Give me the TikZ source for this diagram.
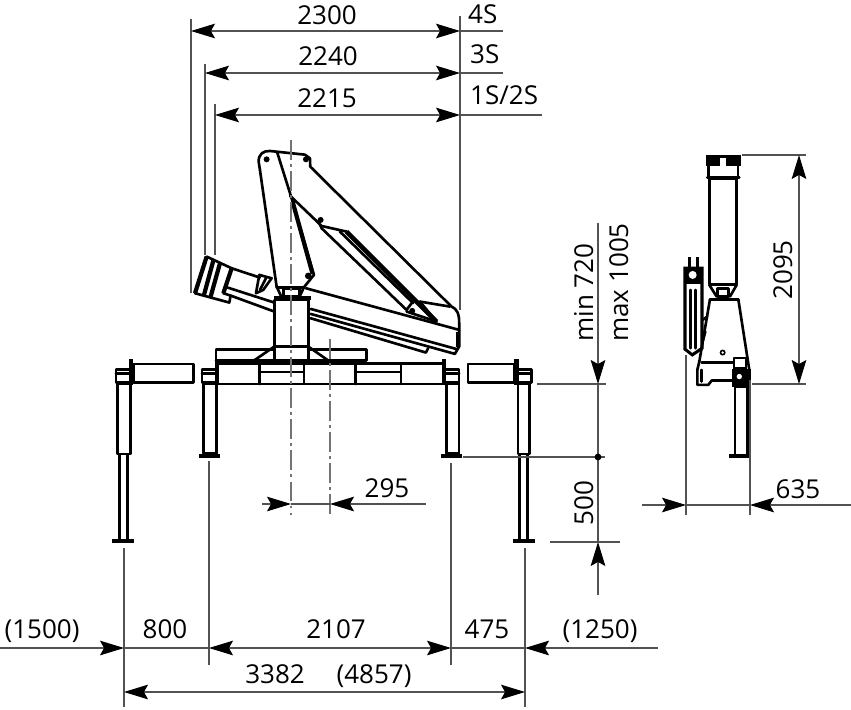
\documentclass[tikz,border=0pt]{standalone}
\usepackage{fontspec}
\setmainfont{Open Sans}
\usetikzlibrary{arrows.meta}
\tikzset{
  dimtext/.style={font=\fontsize{22.2}{26}\selectfont,inner sep=0,anchor=base},
  dimline/.style={line width=.95pt,color=black!68},
  dimarrow/.style={dimline,arrows={-{Stealth[length=20.5pt,width=12.5pt,inset=3.5pt,color=black]}}},
  dimboth/.style={dimline,arrows={{Stealth[length=20.5pt,width=12.5pt,inset=3.5pt,color=black]}-{Stealth[length=20.5pt,width=12.5pt,inset=3.5pt,color=black]}}},
  centreline/.style={line width=1.3pt,color=black!55,dash pattern=on 17pt off 3.5pt on 2.5pt off 3.5pt},
  steel/.style={line width=2.25pt,line join=round,line cap=round},
  heavy/.style={line width=3.6pt,line cap=butt},
  zoomed/.style={x=.01cm,y=-.01cm}
}
\begin{document}
\begin{tikzpicture}[x=.03cm,y=-.03cm]
    \useasboundingbox (0,0) rectangle (851,709);
    % front view, boom and column
    \begin{scope}[shift={(180,130)},zoomed]
    \draw[steel] (240,120) -- (236,95) .. controls (236,72) and (250,62) .. (270,63) -- (375,74) -- (390,85) -- (391,110) -- (815,530) .. controls (835,540) and (838,555) .. (838,580) -- (838,650) -- (825,672);
    \draw[steel] (240,120) -- (290,470) -- (303,498);
    \draw[steel] (292,68) -- (335,205) -- (402,435) -- (372,472) -- (360,498);
    \draw[steel] (290,472) -- (372,472);
    \draw[steel] (310,475) rectangle (358,498);
    \draw[heavy] (338,215) -- (398,432);
    \draw[heavy] (283,505) -- (392,505);
    \draw[steel] (283,510) rectangle (385,696);
    \draw[steel] (283,650) -- (385,650);
    \draw[steel] (378,475) -- (838,600);
    \draw[steel] (392,537) -- (832,658);
    \draw[steel] (392,552) -- (825,672);
    \draw[steel] (392,565) -- (738,668) -- (745,655);
    \draw[heavy] (835,605) -- (835,650);
    \draw[steel] (330,197) -- (422,285) -- (425,295) -- (680,540) -- (695,520);
    \draw[steel] (420,287) -- (500,305);
    \draw[line width=3.9pt] (500,305) -- (770,575);
    \draw[steel] (480,305) -- (700,520);
    \draw[steel] (720,515) -- (810,530);
    \draw[steel] (720,515) -- (770,575);
    \draw[steel] (680,545) -- (770,575);
    \fill (260,88) circle (9);
    \fill (422,270) circle (9);
    \fill (385,438) circle (10);
    \fill (697,543) circle (9);
    \fill (378,88) circle (9);
    % folded tip of the boom
    \draw[heavy] (80,380) -- (45,490);
    \draw[heavy] (100,392) -- (72,495);
    \draw[heavy] (120,400) -- (92,500);
    \draw[heavy] (155,415) -- (130,490);
    \draw[steel] (80,380) -- (155,415) -- (240,443);
    \draw[steel] (45,490) -- (148,518) -- (152,497);
    \draw[steel] (130,490) -- (152,497) -- (283,545);
    \draw[steel] (140,472) -- (283,518);
    \draw[steel] (238,435) -- (275,445) -- (250,480) -- (228,490) -- cycle;
    \draw[steel] (240,480) -- (258,445);
    % base plate
    \draw[steel] (108,692) -- (108,658) -- (283,658);
    \draw[steel] (385,658) -- (560,658) -- (560,692) -- (108,692);
    \draw[steel] (222,692) -- (283,650);
    \draw[steel] (385,650) -- (445,692);
    \end{scope}
    % frame and legs
    \begin{scope}[shift={(100,340)},zoomed]
    \draw[steel] (350,70) rectangle (1030,132);
    \draw[steel] (478,70) -- (478,132);
    \draw[steel] (612,70) -- (612,132);
    \draw[steel] (766,70) -- (766,132);
    \draw[steel] (903,70) -- (903,132);
    \draw[steel] (478,96) -- (612,96);
    \draw[steel] (766,96) -- (903,96);
    \draw[steel] (310,130) rectangle (350,340);
    \draw[heavy] (297,348) -- (360,348);
    \draw[steel] (306,88) rectangle (350,128);
    \draw[steel] (306,100) -- (350,100);
    \draw[heavy] (352,60) -- (352,135);
    \draw[steel] (1040,130) rectangle (1078,340);
    \draw[heavy] (1023,348) -- (1088,348);
    \draw[steel] (1035,88) rectangle (1078,128);
    \draw[steel] (1035,100) -- (1078,100);
    \draw[heavy] (1033,58) -- (1033,135);
    % outer legs
    \draw[steel] (100,72) rectangle (280,128);
    \draw[steel] (52,130) rectangle (92,342);
    \draw[steel] (48,88) rectangle (92,128);
    \draw[steel] (48,100) -- (92,100);
    \draw[heavy] (93,58) -- (93,135);
    \draw[steel] (58,342) rectangle (82,604);
    \draw[heavy] (37,604) -- (103,604);
    \draw[steel] (1105,72) rectangle (1245,128);
    \draw[heavy] (1250,58) -- (1250,135);
    \draw[steel] (1250,88) rectangle (1295,128);
    \draw[steel] (1250,100) -- (1295,100);
    \draw[steel] (1255,130) rectangle (1290,342);
    \draw[steel] (1260,342) rectangle (1283,604);
    \draw[heavy] (1240,604) -- (1305,604);
    \end{scope}
    % side view
    \begin{scope}[shift={(670,140)},zoomed]
    \fill (108,46) rectangle (212,78);
    \fill (112,78) rectangle (120,112);
    \fill (200,78) rectangle (208,112);
    \fill[white] (150,55) rectangle (168,108);
    \draw[steel] (112,112) -- (208,112);
    \draw[steel] (118,115) rectangle (200,432);
    \draw[steel] (118,435) -- (140,470);
    \draw[steel] (200,435) -- (180,470);
    \draw[steel] (118,435) -- (200,435);
    \draw[steel] (143,445) rectangle (175,470);
    \draw[steel] (120,478) -- (205,478);
    \draw[steel] (120,478) -- (88,665) -- (82,690) -- (82,735) -- (115,735) -- (125,722) -- (190,722);
    \draw[steel] (205,478) -- (238,690);
    \draw[steel] (95,668) -- (190,668);
    \draw[steel] (95,690) -- (95,725);
    \fill (158,638) circle (9);
    \fill[white] (158,638) circle (4);
    % folded boom seen from the side
    \draw[line width=2.6pt] (45,385) -- (45,628) -- (67,645) -- (96,625) -- (96,385) -- cycle;
    \fill (53,352) rectangle (62,385);
    \fill (78,352) rectangle (87,385);
    \fill (45,380) rectangle (96,432);
    \fill[white] (68,405) circle (12);
    \fill[white] (55,432) -- (75,442) -- (55,452) -- cycle;
    \draw[steel] (62,450) -- (62,625);
    \draw[steel] (76,450) -- (76,625);
    \draw[steel] (98,540) -- (112,530);
    \draw[steel] (98,605) -- (106,575);
    % leg
    \fill (186,686) rectangle (242,740);
    \draw[steel] (192,654) rectangle (228,686);
    \fill[white] (208,710) circle (8);
    \draw[steel] (195,740) rectangle (232,948);
    \draw[heavy] (178,948) -- (242,948);
    \end{scope}
    % centre lines
    \draw[centreline] (291,140) -- (291,515);
    \draw[centreline] (330,339) -- (330,515);
    % extension lines
    \coordinate (ext4sa) at (191,19);
    \coordinate (ext4sb) at (191,293);
    \coordinate (ext3sa) at (205,64);
    \coordinate (ext3sb) at (205,255);
    \coordinate (ext1sa) at (215,104);
    \coordinate (ext1sb) at (215,255);
    \coordinate (exttipa) at (460,16);
    \coordinate (exttipb) at (460,310);
    \coordinate (extfoota) at (124,548);
    \coordinate (extfootb) at (124,707);
    \coordinate (extfootc) at (525,548);
    \coordinate (extfootd) at (525,707);
    \coordinate (extlega) at (209,461);
    \coordinate (extlegb) at (209,665);
    \coordinate (extlegc) at (451,463);
    \coordinate (extlegd) at (451,665);
    \coordinate (extfrma) at (537,384);
    \coordinate (extfrmb) at (606,384);
    \coordinate (extpada) at (463,457);
    \coordinate (extpadb) at (605,457);
    \coordinate (extlowa) at (550,542);
    \coordinate (extlowb) at (620,542);
    \coordinate (extcapa) at (742,155);
    \coordinate (extcapb) at (806,155);
    \coordinate (extbasea) at (752,384);
    \coordinate (extbaseb) at (806,384);
    \coordinate (extsidea) at (686,355);
    \coordinate (extsideb) at (686,515);
    \coordinate (extsidec) at (750,380);
    \coordinate (extsided) at (750,515);
    \foreach \from/\to in {ext4sa/ext4sb,ext3sa/ext3sb,ext1sa/ext1sb,exttipa/exttipb,
        extfoota/extfootb,extfootc/extfootd,extlega/extlegb,extlegc/extlegd,extfrma/extfrmb,
        extpada/extpadb,extlowa/extlowb,extcapa/extcapb,extbasea/extbaseb,
        extsidea/extsideb,extsidec/extsided}
        \draw[dimline] (\from) -- (\to);
    % reach dimensions
    \coordinate (reach4a) at (191,31);
    \coordinate (reach4b) at (460,31);
    \coordinate (reach4c) at (503,31);
    \coordinate (reach3a) at (205,73);
    \coordinate (reach3b) at (460,73);
    \coordinate (reach3c) at (503,73);
    \coordinate (reach1a) at (215,115);
    \coordinate (reach1b) at (460,115);
    \coordinate (reach1c) at (542,115);
    \draw[dimboth] (reach4a) -- (reach4b);
    \draw[dimline] (reach4b) -- (reach4c);
    \draw[dimboth] (reach3a) -- (reach3b);
    \draw[dimline] (reach3b) -- (reach3c);
    \draw[dimboth] (reach1a) -- (reach1b);
    \draw[dimline] (reach1b) -- (reach1c);
    \node[dimtext] (txta) at (327,25) {2300};
    \node[dimtext] (txtb) at (328,66) {2240};
    \node[dimtext] (txtc) at (327,108) {2215};
    \node[dimtext,anchor=base west] (txtd) at (468,24) {4S};
    \node[dimtext,anchor=base west] (txte) at (470,64) {3S};
    \node[dimtext,anchor=base west] (txtf) at (470,105) {1S/2S};
    % height dimensions
    \coordinate (liftua) at (598,223);
    \coordinate (liftub) at (598,384);
    \coordinate (liftuc) at (598,542);
    \coordinate (liftud) at (598,595);
    \draw[dimarrow] (liftua) -- (liftub);
    \draw[dimline] (liftub) -- (liftuc);
    \draw[dimarrow] (liftud) -- (liftuc);
    \fill (598,457) circle (3.4);
    \node[dimtext,rotate=90,anchor=base west] (txtg) at (593,342) {min 720};
    \node[dimtext,rotate=90,anchor=base west] (txth) at (628,342) {max 1005};
    \node[dimtext,rotate=90] (txti) at (593,503) {500};
    \coordinate (sidea) at (799,155);
    \coordinate (sideb) at (799,384);
    \draw[dimboth] (sidea) -- (sideb);
    \node[dimtext,rotate=90] (txtj) at (792,270) {2095};
    % small offsets
    \coordinate (offa) at (262,504);
    \coordinate (offb) at (291,504);
    \coordinate (offc) at (330,504);
    \coordinate (offd) at (426,504);
    \draw[dimarrow] (offa) -- (offb);
    \draw[dimline] (offb) -- (offc);
    \draw[dimarrow] (offd) -- (offc);
    \node[dimtext] (txtk) at (387,497) {295};
    \coordinate (backa) at (642,505);
    \coordinate (backb) at (686,505);
    \coordinate (backc) at (750,505);
    \coordinate (backd) at (851,505);
    \draw[dimarrow] (backa) -- (backb);
    \draw[dimline] (backb) -- (backc);
    \draw[dimarrow] (backd) -- (backc);
    \node[dimtext] (txtl) at (798,498) {635};
    % spread dimensions
    \coordinate (sprda) at (0,648);
    \coordinate (sprdb) at (124,648);
    \coordinate (sprdc) at (209,648);
    \coordinate (sprdd) at (451,648);
    \coordinate (sprde) at (525,648);
    \coordinate (sprdf) at (658,648);
    \draw[dimarrow] (sprda) -- (sprdb);
    \draw[dimline] (sprdb) -- (sprdc);
    \draw[dimboth] (sprdc) -- (sprdd);
    \draw[dimline] (sprdd) -- (sprde);
    \draw[dimarrow] (sprdf) -- (sprde);
    \coordinate (fulla) at (124,692);
    \coordinate (fullb) at (525,692);
    \draw[dimboth] (fulla) -- (fullb);
    \node[dimtext] (txtm) at (42,638) {(1500)};
    \node[dimtext] (txtn) at (165,638) {800};
    \node[dimtext] (txto) at (336,638) {2107};
    \node[dimtext] (txtp) at (487,638) {475};
    \node[dimtext] (txtq) at (600,638) {(1250)};
    \node[dimtext] (txtr) at (275,683) {3382};
    \node[dimtext] (txts) at (374,683) {(4857)};
\end{tikzpicture}
\end{document}
